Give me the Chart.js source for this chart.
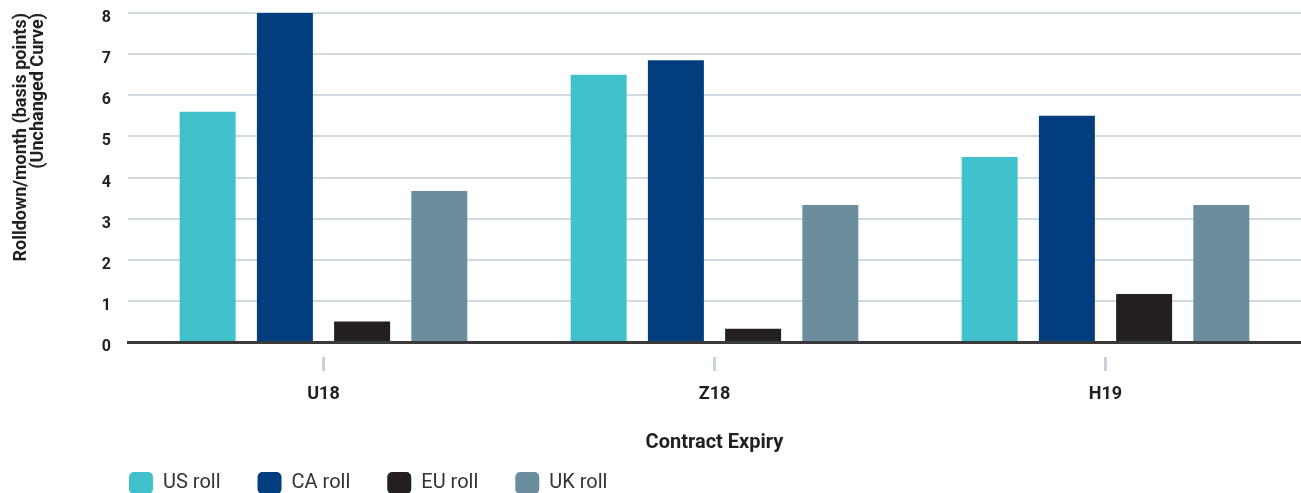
<!DOCTYPE html>
<html>
<head>
<meta charset="utf-8">
<script src="https://cdn.jsdelivr.net/npm/chart.js@4/dist/chart.umd.min.js"></script>
<style>
  html, body { margin: 0; padding: 0; background: #fff; overflow: hidden; }
  #wrap { width: 1301px; height: 493px; position: relative; }
</style>
</head>
<body>
<div id="wrap"><canvas id="c"></canvas></div>
<script>
const categories = ['U18', 'Z18', 'H19'];
const seriesNames = ['US roll', 'CA roll', 'EU roll', 'UK roll'];
const usRoll = [5.6, 6.5, 4.5];
const caRoll = [8.0, 6.85, 5.5];
const euRoll = [0.5, 0.32, 1.17];
const ukRoll = [3.67, 3.33, 3.33];
const yTicks = [0, 1, 2, 3, 4, 5, 6, 7, 8];
const yTitle = ['Rolldown/month (basis points)', '(Unchanged Curve)'];
const xTitle = 'Contract Expiry';

const colors = ['#40c1cc', '#023e7d', '#231f20', '#6b8e9e'];
const FONT = 'Roboto, "DejaVu Sans", sans-serif';
const TEXT = '#231f20';
const PLOT_BOTTOM = 342;

const legendShift = {
  id: 'legendShift',
  afterLayout(chart) {
    const lg = chart.legend;
    if (lg) {
      const pad = lg.options.labels.padding;
      const w = lg.width, h = lg.height;
      lg.left = 129 - pad;
      lg.right = lg.left + w;
      lg.top = 472 - pad;
      lg.bottom = lg.top + h;
    }
    const xs = chart.scales.x;
    xs.bottom = chart.height;
    xs.height = xs.bottom - xs.top;
  }
};

new Chart(document.getElementById('c'), {
  type: 'bar',
  data: {
    labels: categories,
    datasets: [usRoll, caRoll, euRoll, ukRoll].map((d, i) => ({
      label: seriesNames[i],
      data: d,
      backgroundColor: colors[i],
      borderWidth: 0,
      categoryPercentage: 0.79,
      barPercentage: 0.725
    }))
  },
  options: {
    responsive: true,
    maintainAspectRatio: false,
    animation: false,
    layout: { padding: { top: 13, right: 0, bottom: 0, left: 0 } },
    plugins: {
      tooltip: { enabled: false },
      legend: {
        position: 'bottom',
        align: 'start',
        labels: {
          boxWidth: 24,
          boxHeight: 22,
          useBorderRadius: true,
          borderRadius: 5,
          padding: 37,
          color: '#333333',
          font: { family: FONT, size: 20, weight: 'normal' }
        }
      }
    },
    scales: {
      x: {
        afterFit(scale) {
          const lh = scale.chart.legend ? scale.chart.legend.height : 0;
          scale.height = scale.chart.height - PLOT_BOTTOM - lh;
          scale.paddingLeft = 0;
          scale.paddingRight = 0;
        },
        grid: {
          display: true,
          offset: false,
          drawOnChartArea: false,
          drawTicks: true,
          tickLength: 30,
          tickWidth: 3,
          tickColor: '#c9d2da',
          tickBorderDash: [0, 13, 14, 60]
        },
        border: { display: true, color: '#3a3a3a', width: 3 },
        ticks: {
          color: TEXT,
          padding: 12,
          font: { family: FONT, size: 18, weight: 'bold' }
        },
        title: {
          display: true,
          text: xTitle,
          color: TEXT,
          padding: { top: 0, bottom: 38 },
          font: { family: FONT, size: 20, weight: 'bold' }
        }
      },
      y: {
        min: 0,
        max: 8,
        afterFit(scale) {
          scale.width = 128;
          scale.paddingTop = 0;
          scale.paddingBottom = 0;
        },
        afterBuildTicks(scale) { scale.ticks = yTicks.map(v => ({ value: v })); },
        grid: {
          color: '#d1dae1',
          lineWidth: 2,
          drawTicks: false
        },
        border: { display: false },
        ticks: {
          color: TEXT,
          padding: 17,
          labelOffset: 5,
          font: { family: FONT, size: 16, weight: 'bold' }
        },
        title: {
          display: true,
          text: yTitle,
          align: 'end',
          color: TEXT,
          padding: { top: 13, bottom: 0 },
          font: { family: FONT, size: 18, weight: 'bold', lineHeight: 0.95 }
        }
      }
    }
  },
  plugins: [legendShift]
});
</script>
</body>
</html>
